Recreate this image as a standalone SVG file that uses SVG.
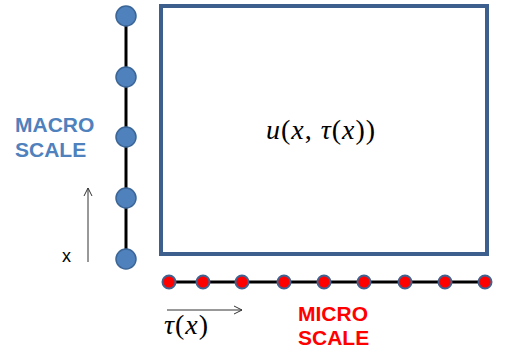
<svg xmlns="http://www.w3.org/2000/svg" width="510" height="356" viewBox="0 0 510 356">
<style>
.macro{fill:#4f81bd;stroke:#3a6596;stroke-width:1.5}
.micro{fill:#ff0000;stroke:#3f6290;stroke-width:2}
.lbl{font-family:"Liberation Sans",Arial,sans-serif;font-weight:bold;font-size:21px}
.math{font-family:"Liberation Serif","Times New Roman",serif;font-size:28px;letter-spacing:1px}
</style>
<defs>
<marker id="open" markerWidth="10" markerHeight="10" refX="9" refY="5" orient="auto" markerUnits="userSpaceOnUse">
<path d="M1,1 L9,5 L1,9" fill="none" stroke="#333" stroke-width="1"/>
</marker>
</defs>
<g id="connectors">
<line x1="126" y1="16" x2="126" y2="259" stroke="#000" stroke-width="3"/>
<line x1="169" y1="282" x2="486" y2="282" stroke="#000" stroke-width="3"/>
<line x1="88" y1="262" x2="88" y2="188" stroke="#333" stroke-width="1" marker-end="url(#open)"/>
<line x1="167" y1="310" x2="242" y2="310" stroke="#333" stroke-width="1" marker-end="url(#open)"/>
</g>
<g id="domain">
<rect x="161" y="6" width="326" height="248" fill="#fff" stroke="#3d5f8e" stroke-width="4"/>
<text class="math" x="321" y="139" text-anchor="middle"><tspan font-style="italic">u</tspan>(<tspan font-style="italic">x</tspan>, <tspan font-style="italic">τ</tspan>(<tspan font-style="italic">x</tspan>))</text>
</g>
<g id="macro-nodes">
<circle class="macro" cx="126" cy="16" r="10"/>
<circle class="macro" cx="126" cy="77" r="10"/>
<circle class="macro" cx="126" cy="137" r="10"/>
<circle class="macro" cx="126" cy="198" r="10"/>
<circle class="macro" cx="126" cy="259" r="10"/>
</g>
<g id="micro-nodes">
<circle class="micro" cx="169" cy="282" r="6.5"/>
<circle class="micro" cx="203" cy="282" r="6.5"/>
<circle class="micro" cx="242" cy="282" r="6.5"/>
<circle class="micro" cx="284" cy="282" r="6.5"/>
<circle class="micro" cx="324" cy="282" r="6.5"/>
<circle class="micro" cx="364" cy="282" r="6.5"/>
<circle class="micro" cx="405" cy="282" r="6.5"/>
<circle class="micro" cx="445" cy="282" r="6.5"/>
<circle class="micro" cx="485" cy="282" r="6.5"/>
</g>
<g id="macro-label">
<text class="lbl" x="15" y="132" fill="#4f81bd">MACRO</text>
<text class="lbl" x="15" y="157" fill="#4f81bd">SCALE</text>
</g>
<g id="micro-label">
<text class="lbl" x="298" y="321" fill="#ff0000">MICRO</text>
<text class="lbl" x="298" y="345" fill="#ff0000">SCALE</text>
</g>
<g id="axis-labels">
<text x="62" y="262" font-family="Liberation Sans,Arial,sans-serif" font-size="18px" fill="#000">x</text>
<text class="math" x="164" y="334"><tspan font-style="italic">τ</tspan>(<tspan font-style="italic">x</tspan>)</text>
</g>
</svg>
